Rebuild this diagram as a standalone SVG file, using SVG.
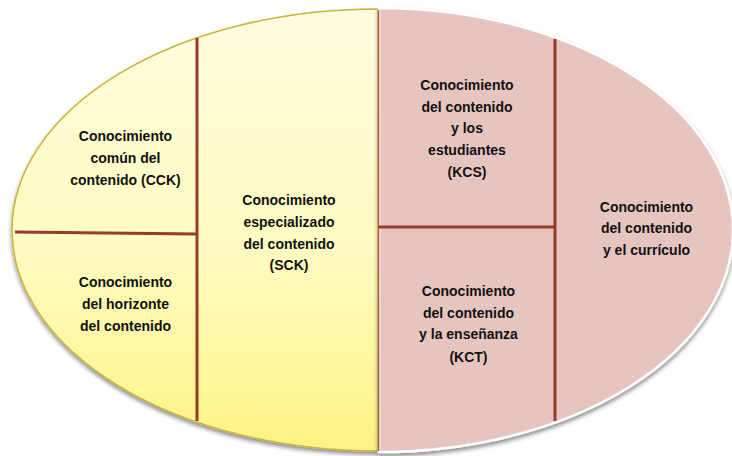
<svg xmlns="http://www.w3.org/2000/svg" width="732" height="456" viewBox="0 0 732 456">
<defs>
<linearGradient id="yel" x1="0" y1="0" x2="0" y2="1">
<stop offset="0" stop-color="#fffde0"/>
<stop offset="0.55" stop-color="#fffbc0"/>
<stop offset="1" stop-color="#fdf384"/>
</linearGradient>
<filter id="sh" x="-5%" y="-5%" width="110%" height="115%">
<feGaussianBlur in="SourceAlpha" stdDeviation="2"/>
<feOffset dx="0" dy="3" result="b"/>
<feComponentTransfer><feFuncA type="linear" slope="0.45"/></feComponentTransfer>
<feMerge><feMergeNode/><feMergeNode in="SourceGraphic"/></feMerge>
</filter>
</defs>
<style>
.t{font-family:"Liberation Sans",Arial,sans-serif;font-weight:bold;font-size:14px;fill:#111;text-anchor:middle}
.ln{stroke:#983a2c;stroke-width:3;fill:none}
</style>
<rect width="732" height="456" fill="#ffffff"/>
<g id="shapes">
<path id="left-half" d="M378,9 A366,221 0 0 0 378,451 Z" fill="url(#yel)" stroke="#c9b43a" stroke-width="1.5" filter="url(#sh)"/>
<path id="right-half" d="M379,8 A354,222 0 0 1 379,452 Z" fill="#e6c5c0" stroke="#ffffff" stroke-width="2.5" filter="url(#sh)"/>
<line x1="378.5" y1="10" x2="378.5" y2="451" stroke="#a8542e" stroke-width="1.5"/>
</g>
<g id="connectors">
<line class="ln" x1="197" y1="38" x2="197" y2="421"/>
<line class="ln" x1="15" y1="232" x2="197" y2="234"/>
<line class="ln" x1="555" y1="39" x2="555" y2="421"/>
<line class="ln" x1="379" y1="227" x2="555" y2="227"/>
</g>
<g id="cck"><text class="t" x="125.5" y="141">Conocimiento</text><text class="t" x="125.5" y="163">común del</text><text class="t" x="125.5" y="185">contenido (CCK)</text></g>
<g id="hck"><text class="t" x="125.5" y="287">Conocimiento</text><text class="t" x="125.5" y="309">del horizonte</text><text class="t" x="125.5" y="331">del contenido</text></g>
<g id="sck"><text class="t" x="289" y="205">Conocimiento</text><text class="t" x="289" y="227">especializado</text><text class="t" x="289" y="248.5">del contenido</text><text class="t" x="289" y="270">(SCK)</text></g>
<g id="kcs"><text class="t" x="467" y="90">Conocimiento</text><text class="t" x="467" y="111.7">del contenido</text><text class="t" x="467" y="133.3">y los</text><text class="t" x="467" y="155">estudiantes</text><text class="t" x="467" y="176.7">(KCS)</text></g>
<g id="kct"><text class="t" x="468.5" y="296">Conocimiento</text><text class="t" x="468.5" y="317.5">del contenido</text><text class="t" x="468.5" y="339">y la enseñanza</text><text class="t" x="468.5" y="361.5">(KCT)</text></g>
<g id="kcc"><text class="t" x="646.5" y="211.5">Conocimiento</text><text class="t" x="646.5" y="233">del contenido</text><text class="t" x="646.5" y="254.5">y el currículo</text></g>
</svg>
